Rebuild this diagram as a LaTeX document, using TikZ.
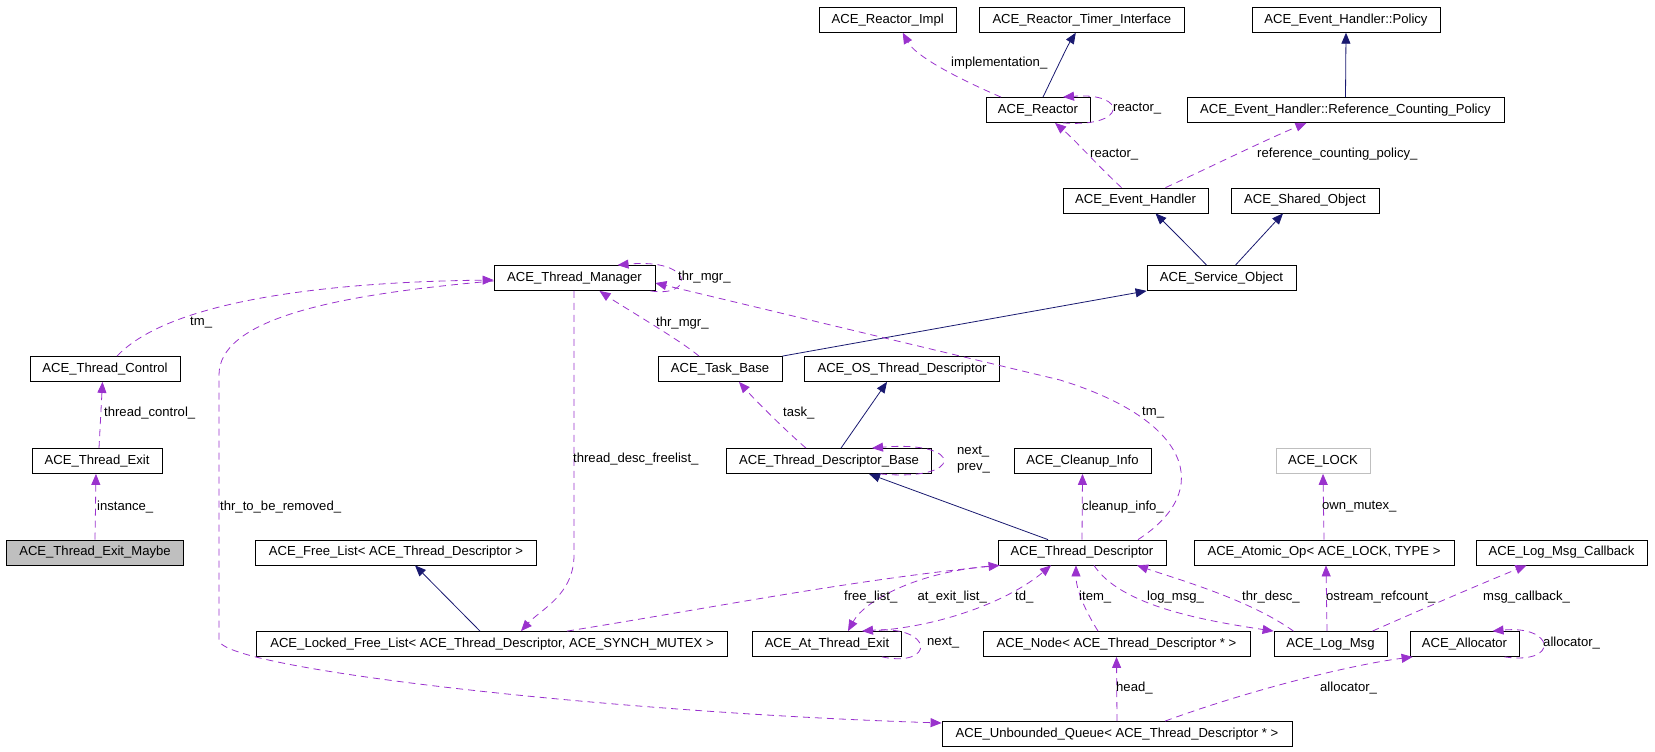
\documentclass[tikz,border=0pt]{standalone}
\usepackage{fontspec}
\setmainfont{Liberation Sans}
\usetikzlibrary{arrows.meta}
\definecolor{usecol}{HTML}{9A32CD}
\definecolor{inhcol}{HTML}{191970}
\definecolor{graybox}{HTML}{BFBFBF}
\begin{document}
\begin{tikzpicture}[x=1pt,y=-1pt,
  font=\fontsize{13.1}{15}\selectfont,
  cls/.style={draw=black, line width=0.8pt, minimum height=25pt, inner sep=0pt, fill=white},
  lbl/.style={anchor=west, inner sep=0pt},
  usage/.style={draw=usecol, line width=0.8pt, dash pattern=on 7pt off 5pt, -{Triangle[length=11pt,width=9pt,fill=usecol]}},
  inh/.style={draw=inhcol, line width=0.8pt, -{Triangle[length=11pt,width=9pt,fill=inhcol]}}]
\useasboundingbox (0,0) rectangle (1655,752);
% nodes
\node[cls, minimum width=136.7pt] (reactorimpl) at (887.7,19.8) {ACE\_Reactor\_Impl};
\node[cls, minimum width=205pt] (timer) at (1081.8,19.8) {ACE\_Reactor\_Timer\_Interface};
\node[cls, minimum width=188pt] (policy) at (1346,19.8) {ACE\_Event\_Handler::Policy};
\node[cls, minimum width=104pt] (reactor) at (1038,110) {ACE\_Reactor};
\node[cls, minimum width=317pt] (refcount) at (1345.5,110) {ACE\_Event\_Handler::Reference\_Counting\_Policy};
\node[cls, minimum width=145pt] (eventhandler) at (1135.5,200.5) {ACE\_Event\_Handler};
\node[cls, minimum width=148pt] (sharedobj) at (1305,200.5) {ACE\_Shared\_Object};
\node[cls, minimum width=149pt] (serviceobj) at (1221.5,278) {ACE\_Service\_Object};
\node[cls, minimum width=161pt] (threadmgr) at (574.5,278) {ACE\_Thread\_Manager};
\node[cls, minimum width=150pt] (threadcontrol) at (105,369) {ACE\_Thread\_Control};
\node[cls, minimum width=124pt] (taskbase) at (720,369) {ACE\_Task\_Base};
\node[cls, minimum width=194.5pt] (osthreaddesc) at (902,369) {ACE\_OS\_Thread\_Descriptor};
\node[cls, minimum width=130pt] (threadexit) at (97,461) {ACE\_Thread\_Exit};
\node[cls, minimum width=204.5pt] (tdbase) at (829,461) {ACE\_Thread\_Descriptor\_Base};
\node[cls, minimum width=137pt] (cleanup) at (1082.5,461) {ACE\_Cleanup\_Info};
\node[cls, draw=graybox, minimum width=94pt] (acelock) at (1323,461) {ACE\_LOCK};
\node[cls, fill=graybox, minimum width=177.5pt] (exitmaybe) at (95,552.5) {ACE\_Thread\_Exit\_Maybe};
\node[cls, minimum width=280.5pt] (freelist) at (396,552.5) {ACE\_Free\_List< ACE\_Thread\_Descriptor >};
\node[cls, minimum width=168pt] (threaddesc) at (1082,552.5) {ACE\_Thread\_Descriptor};
\node[cls, minimum width=260pt] (atomicop) at (1324,552.5) {ACE\_Atomic\_Op< ACE\_LOCK, TYPE >};
\node[cls, minimum width=171pt] (logmsgcb) at (1561.5,552.5) {ACE\_Log\_Msg\_Callback};
\node[cls, minimum width=471.5pt] (lockedfreelist) at (492,644) {ACE\_Locked\_Free\_List< ACE\_Thread\_Descriptor, ACE\_SYNCH\_MUTEX >};
\node[cls, minimum width=149.5pt] (atthreadexit) at (827,644) {ACE\_At\_Thread\_Exit};
\node[cls, minimum width=267pt] (acenode) at (1116.5,644) {ACE\_Node< ACE\_Thread\_Descriptor * >};
\node[cls, minimum width=113pt] (logmsg) at (1330.5,644) {ACE\_Log\_Msg};
\node[cls, minimum width=109pt] (allocator) at (1464.5,644) {ACE\_Allocator};
\node[cls, minimum width=350pt] (queue) at (1117,734) {ACE\_Unbounded\_Queue< ACE\_Thread\_Descriptor * >};
% inheritance
\draw[inh] ([xshift=5pt]reactor.north) .. controls (1055,72) and (1068,45) .. ([xshift=-6pt]timer.south);
\draw[inh] (refcount.north) -- (policy.south);
\draw[inh] ([xshift=-15pt]serviceobj.north) .. controls (1195,253) and (1170,228) .. ([xshift=20pt]eventhandler.south);
\draw[inh] ([xshift=14pt]serviceobj.north) -- ([xshift=-22pt]sharedobj.south);
\draw[inh] (taskbase.north east) -- (serviceobj.south west);
\draw[inh] ([xshift=12pt]tdbase.north) -- ([xshift=-15pt]osthreaddesc.south);
\draw[inh] ([xshift=-34pt]threaddesc.north) -- ([xshift=40pt]tdbase.south);
\draw[inh] ([xshift=-12pt]lockedfreelist.north) -- ([xshift=19pt]freelist.south);
% usage
\draw[usage] ([xshift=-37pt]reactor.north) .. controls (950,75) and (915,55) .. ([xshift=15pt]reactorimpl.south);
\draw[usage] ([xshift=25pt]reactor.south) .. controls (1128,128) and (1128,92) .. ([xshift=25pt]reactor.north);
\draw[usage] ([xshift=-14pt]eventhandler.north) .. controls (1100,168) and (1075,140) .. ([xshift=17pt]reactor.south);
\draw[usage] ([xshift=30pt]eventhandler.north) .. controls (1200,172) and (1265,140) .. ([xshift=-39pt]refcount.south);
\draw[usage] ([xshift=-21pt]taskbase.north) .. controls (680,340) and (620,305) .. ([xshift=25pt]threadmgr.south);
\draw[usage] ([xshift=-5pt]threadmgr.south east) .. controls (695,298) and (695,258) .. ([xshift=43pt]threadmgr.north);
\draw[usage] ([xshift=56pt]threaddesc.north) .. controls (1215,490) and (1190,420) .. (1060,380) -- ([yshift=-5pt]threadmgr.east);
\draw[usage] ([xshift=-23pt]tdbase.north) .. controls (785,430) and (755,400) .. ([xshift=19pt]taskbase.south);
\draw[usage] ([xshift=51pt]tdbase.south) .. controls (965,482) and (965,440) .. ([xshift=43pt]tdbase.north);
\draw[usage] (threaddesc.north) -- (cleanup.south);
\draw[usage] ([xshift=-0.5pt]threadmgr.south) -- (574,555) .. controls (574,595) and (540,610) .. ([xshift=29pt]lockedfreelist.north);
\draw[usage] ([yshift=-3pt]threadmgr.west) .. controls (330,295) and (219,320) .. (219,375) -- (219,640) .. controls (219,668) and (600,712) .. ([yshift=11pt]queue.west);
\draw[usage] ([xshift=12pt]threadcontrol.north) .. controls (170,300) and (330,282) .. ([yshift=-2pt]threadmgr.west);
\draw[usage] ([xshift=2pt]threadexit.north) -- ([xshift=-2.5pt]threadcontrol.south);
\draw[usage] (exitmaybe.north) -- ([xshift=-1pt]threadexit.south);
\draw[usage] ([xshift=75pt]lockedfreelist.north) .. controls (700,610) and (850,580) .. ([xshift=2pt]threaddesc.south west);
\draw[usage] ([xshift=2pt]threaddesc.south west) .. controls (920,570) and (865,600) .. ([xshift=21pt]atthreadexit.north);
\draw[usage] ([xshift=40pt]atthreadexit.north) .. controls (940,628) and (1010,600) .. ([xshift=-31pt]threaddesc.south);
\draw[usage] ([xshift=55pt]atthreadexit.south) .. controls (935,668) and (935,625) .. ([xshift=35pt]atthreadexit.north);
\draw[usage] ([xshift=-18.5pt]acenode.north) .. controls (1085,610) and (1076,590) .. ([xshift=-6pt]threaddesc.south);
\draw[usage] ([xshift=12pt]threaddesc.south) .. controls (1120,605) and (1200,620) .. (logmsg.north west);
\draw[usage] ([xshift=-37pt]logmsg.north) .. controls (1250,600) and (1180,580) .. ([xshift=55pt]threaddesc.south);
\draw[usage] ([xshift=-3.5pt]logmsg.north) -- ([xshift=2pt]atomicop.south);
\draw[usage] (atomicop.north) -- (acelock.south);
\draw[usage] ([xshift=-15pt]logmsg.north east) .. controls (1420,610) and (1490,580) .. ([xshift=-35pt]logmsgcb.south);
\draw[usage] ([xshift=40pt]allocator.south) .. controls (1560,665) and (1555,625) .. ([xshift=28pt]allocator.north);
\draw[usage] ([xshift=48pt]queue.north) .. controls (1250,690) and (1350,665) .. ([xshift=3pt]allocator.south west);
\draw[usage] (queue.north) -- (acenode.south);
% labels
\node[lbl] (l1) at (951,63) {implementation\_};
\node[lbl] (l2) at (1113,109) {reactor\_};
\node[lbl] (l3) at (1090,155) {reactor\_};
\node[lbl] (l4) at (1257,154) {reference\_counting\_policy\_};
\node[lbl] (l5) at (678,277) {thr\_mgr\_};
\node[lbl] (l6) at (656,323) {thr\_mgr\_};
\node[lbl] (l7) at (190,323) {tm\_};
\node[lbl] (l8) at (104,413) {thread\_control\_};
\node[lbl] (l9) at (783,413) {task\_};
\node[lbl] (l10) at (1142,413) {tm\_};
\node[lbl] (l11) at (573,459) {thread\_desc\_freelist\_};
\node[lbl] (l12) at (957,452) {next\_};
\node[lbl] (l13) at (957,468) {prev\_};
\node[lbl] (l14) at (97,507) {instance\_};
\node[lbl] (l15) at (220,507) {thr\_to\_be\_removed\_};
\node[lbl] (l16) at (1082,507) {cleanup\_info\_};
\node[lbl] (l17) at (1322,507) {own\_mutex\_};
\node[lbl] (l18) at (844,597) {free\_list\_};
\node[lbl] (l19) at (917.5,597) {at\_exit\_list\_};
\node[lbl] (l20) at (1015,597) {td\_};
\node[lbl] (l21) at (1079,597) {item\_};
\node[lbl] (l22) at (1147,597) {log\_msg\_};
\node[lbl] (l23) at (1242,597) {thr\_desc\_};
\node[lbl] (l24) at (1326,597) {ostream\_refcount\_};
\node[lbl] (l25) at (1483,597) {msg\_callback\_};
\node[lbl] (l26) at (927,643) {next\_};
\node[lbl] (l27) at (1543,643) {allocator\_};
\node[lbl] (l28) at (1116,688) {head\_};
\node[lbl] (l29) at (1320,688) {allocator\_};
\end{tikzpicture}
\end{document}
